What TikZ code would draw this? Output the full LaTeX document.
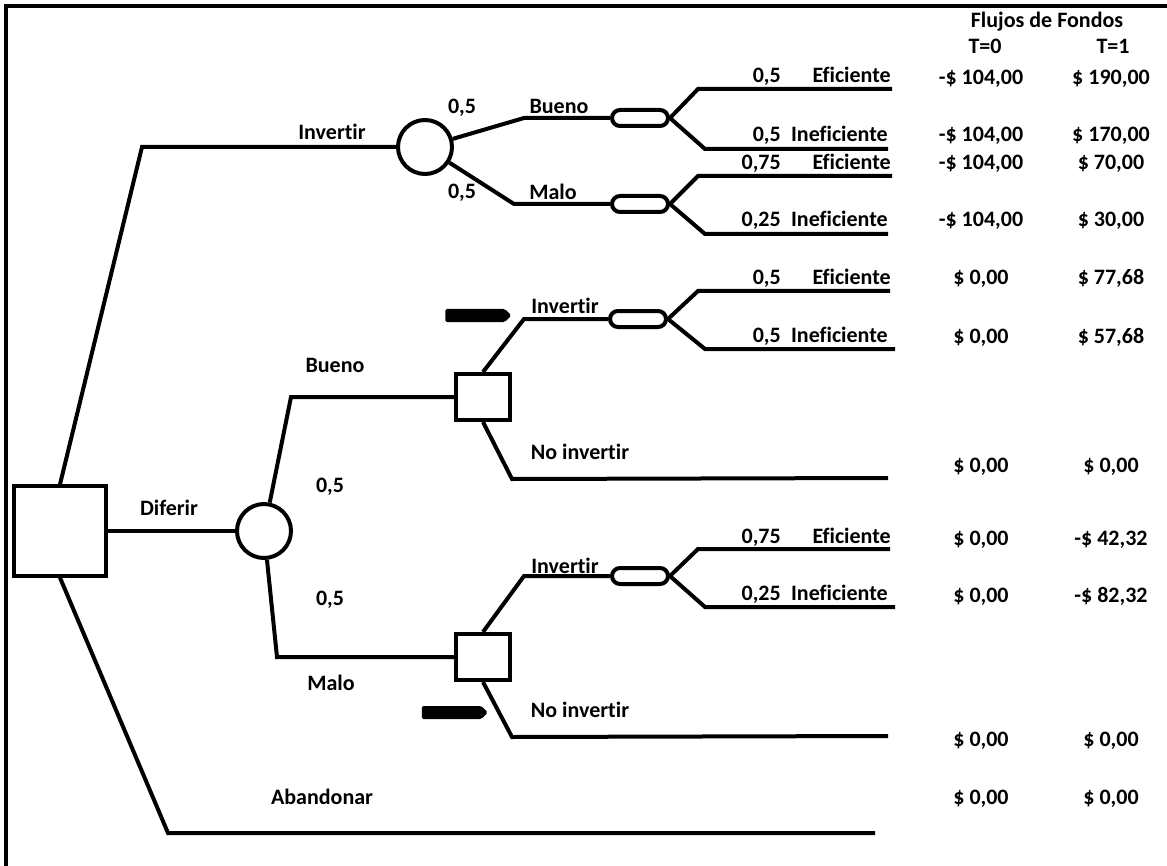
\documentclass[tikz,border=0pt]{standalone}
\usepackage{fontspec}
\setmainfont{Carlito}[Ligatures={NoCommon,NoRequired,NoContextual}]
\usetikzlibrary{shapes.misc,shapes.symbols}
\newcommand{\treefont}{\fontsize{16.5}{19}\selectfont\bfseries}
\tikzset{
  branch/.style={line width=3pt,line join=miter},
  frameline/.style={line width=2.5pt},
  decbox/.style={draw,fill=white,line width=3pt,rectangle,
                 minimum width=40pt,minimum height=34.5pt,inner sep=0pt},
  chance/.style={draw,fill=white,line width=3pt,circle,
                 minimum size=40.5pt,inner sep=0pt},
  pill/.style={draw,fill=white,line width=3pt,rounded rectangle,
               minimum width=42pt,minimum height=12pt,inner sep=0pt},
  pointer/.style={fill=black,signal,signal to=east,rounded corners=1.2pt,
                  minimum width=49.5pt,minimum height=9.75pt,inner sep=0pt},
  txt/.style={inner sep=0pt,font=\treefont,anchor=base}
}
\begin{document}
\begin{tikzpicture}[x=0.75pt,y=-0.75pt]
  \useasboundingbox (0,0) rectangle (1167,866);
  % frame, left and top only
  \draw[frameline] (6,866) -- (6,6) -- (1167,6);

  % decision and chance nodes
  \node[decbox,minimum width=69pt,minimum height=67pt] (root) at (60,531) {};
  \node[chance] (cInv) at (425,147) {};
  \node[chance] (cDif) at (264,531) {};
  \node[decbox] (dBue) at (483,397) {};
  \node[decbox] (dMal) at (483,657) {};

  % efficiency nodes
  \node[pill] (pA) at (640,118) {};
  \node[pill] (pB) at (640,204) {};
  \node[pill] (pC) at (638,319) {};
  \node[pill] (pD) at (640,576) {};

  % main branches
  \coordinate (kInv) at (142,147);
  \coordinate (kAba) at (168,833);
  \coordinate (eAba) at (875,833);
  \draw[branch] (root.north) -- (kInv) -- (cInv.west);
  \draw[branch] (root.east) -- (cDif.west);
  \draw[branch] (root.south) -- (kAba) -- (eAba);

  % invertir now
  \coordinate (kBA) at (524,118);
  \coordinate (kMA) at (514,204);
  \draw[branch] (cInv) -- (kBA) -- (pA.west);
  \draw[branch] (cInv) -- (kMA) -- (pB.west);

  % diferir
  \coordinate (kBue) at (291,397);
  \coordinate (kMal) at (277,657);
  \draw[branch] (cDif) -- (kBue) -- (dBue.west);
  \draw[branch] (cDif) -- (kMal) -- (dMal.west);

  \coordinate (kIB) at (524,319);
  \coordinate (kNB) at (512,479);
  \coordinate (eNB) at (888,478);
  \draw[branch] (dBue.north) -- (kIB) -- (pC.west);
  \draw[branch] (dBue.south) -- (kNB) -- (eNB);

  \coordinate (kIM) at (524,576);
  \coordinate (kNM) at (512,737);
  \coordinate (eNM) at (888,736);
  \draw[branch] (dMal.north) -- (kIM) -- (pD.west);
  \draw[branch] (dMal.south) -- (kNM) -- (eNM);

  % leaves: eficiente / ineficiente
  \foreach \p/\yu/\yl/\xu/\xl/\pu/\pl in
      {pA/89/149/892/888/{0,5}/{0,5},
       pB/176/234/892/888/{0,75}/{0,25},
       pC/291/349/890/895/{0,5}/{0,5},
       pD/549/607/890/895/{0,75}/{0,25}} {
    \coordinate (\p u) at (698,\yu);
    \coordinate (\p ue) at (\xu,\yu);
    \coordinate (\p l) at (705,\yl);
    \coordinate (\p le) at (\xl,\yl);
    \draw[branch] (\p.east) -- (\p u) -- (\p ue);
    \draw[branch] (\p.east) -- (\p l) -- (\p le);
    \node[txt,anchor=base east] (\p pu) at (781,\yu-6) {\pu};
    \node[txt,anchor=base east] (\p eu) at (891,\yu-6) {Eficiente};
    \node[txt,anchor=base east] (\p pl) at (781,\yl-7) {\pl};
    \node[txt,anchor=base east] (\p el) at (888,\yl-7) {Ineficiente};
  }

  % branch labels
  \node[txt] (lInv) at (332,140) {Invertir};
  \node[txt] (lpB) at (462,114) {0,5};
  \node[txt] (lBue) at (559,114) {Bueno};
  \node[txt] (lpM) at (462,199) {0,5};
  \node[txt] (lMal) at (553,200) {Malo};
  \node[txt] (lDif) at (169,515) {Diferir};
  \node[txt] (lBue2) at (335,372) {Bueno};
  \node[txt] (lpB2) at (330,492) {0,5};
  \node[txt] (lpM2) at (330,605) {0,5};
  \node[txt] (lMal2) at (331,690) {Malo};
  \node[txt] (lInvB) at (565,314) {Invertir};
  \node[txt] (lNoB) at (580,459) {No invertir};
  \node[txt] (lInvM) at (565,573) {Invertir};
  \node[txt] (lNoM) at (580,717) {No invertir};
  \node[txt] (lAba) at (322,804) {Abandonar};

  % chosen decisions
  \node[pointer] (ptrB) at (475,315.5) {};
  \node[pointer] (ptrM) at (451.5,712.5) {};

  % cash flows
  \node[txt] (hFlu) at (1047,28) {Flujos de Fondos};
  \node[txt] (hT0) at (985,54) {T=0};
  \node[txt] (hT1) at (1113,54) {T=1};
  \foreach \y/\va/\vb [count=\i] in
      {85/{-\$ 104,00}/{\$ 190,00},
       142/{-\$ 104,00}/{\$ 170,00},
       170/{-\$ 104,00}/{\$ 70,00},
       227/{-\$ 104,00}/{\$ 30,00},
       285/{\$ 0,00}/{\$ 77,68},
       343/{\$ 0,00}/{\$ 57,68},
       472/{\$ 0,00}/{\$ 0,00},
       545/{\$ 0,00}/{-\$ 42,32},
       602/{\$ 0,00}/{-\$ 82,32},
       746/{\$ 0,00}/{\$ 0,00},
       804/{\$ 0,00}/{\$ 0,00}} {
    \node[txt] (va\i) at (981,\y) {\va};
    \node[txt] (vb\i) at (1111,\y) {\vb};
  }
\end{tikzpicture}
\end{document}
